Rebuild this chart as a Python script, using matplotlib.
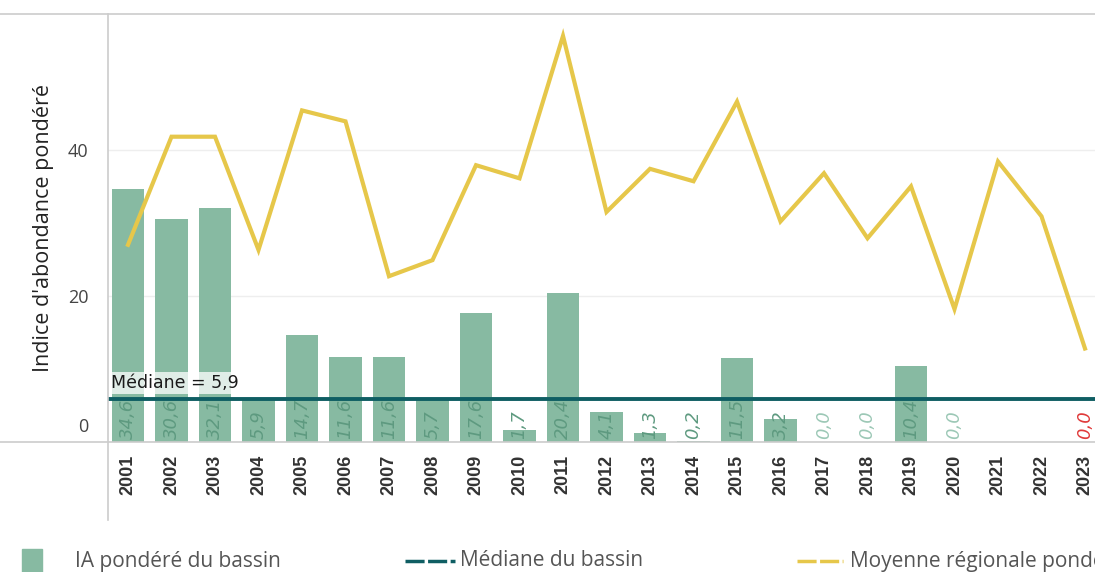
import matplotlib
matplotlib.use("Agg")
import matplotlib.pyplot as plt
from matplotlib.lines import Line2D
from matplotlib.patches import Rectangle

# données
annees = [str(a) for a in range(2001, 2024)]
ia_bassin = [34.6, 30.6, 32.1, 5.9, 14.7, 11.6, 11.6, 5.7, 17.6, 1.7, 20.4, 4.1,
             1.3, 0.2, 11.5, 3.2, 0.0, 0.0, 10.4, 0.0, None, None, 0.0]
moyenne_regionale = [27.0, 41.8, 41.8, 26.3, 45.4, 43.9, 22.7, 24.9, 37.9, 36.1, 55.6, 31.5,
                     37.4, 35.7, 46.6, 30.2, 36.8, 27.9, 35.0, 18.2, 38.4, 30.9, 12.8]
mediane = 5.9
yticks = [0, 20, 40]

col_bar = '#87baa2'
col_lab = '#5e9a80'
col_zero = '#9cc8b6'
col_red = '#e03a3a'
col_med = '#0f5e63'
col_moy = '#e6c74a'

fig = plt.figure(figsize=(10.95, 5.72), dpi=100)
ax = fig.add_axes([108 / 1095, 130 / 572, 1 - 108 / 1095, 428 / 572])

x = list(range(len(annees)))
bx = [i for i, v in zip(x, ia_bassin) if v is not None]
bv = [v for v in ia_bassin if v is not None]
ax.bar(bx, bv, width=0.75, color=col_bar, zorder=2)

for i, v in zip(bx, bv):
    c = col_lab
    if v == 0:
        c = col_zero
    if i == len(annees) - 1:
        c = col_red
    ax.text(i, 0.4, ('%.1f' % v).replace('.', ','), rotation=90, ha='center', va='bottom',
            fontsize=13, style='italic', color=c, family='DejaVu Sans', zorder=3)

ax.plot(x, moyenne_regionale, color=col_moy, lw=3, zorder=4, solid_joinstyle='miter')
ax.axhline(mediane, color=col_med, lw=2.8, zorder=5)
ax.text(-0.38, mediane + 0.9, 'Médiane = 5,9', fontsize=12.5, color='#1a1a1a', family='DejaVu Sans',
        ha='left', va='bottom', zorder=6,
        bbox=dict(facecolor='white', edgecolor='none', alpha=0.75, pad=1.5))

ax.set_xlim(-0.46, 22.23)
ax.set_ylim(0, 58.6)
ax.set_yticks(yticks)
# le "0" est dessiné à part, un peu au-dessus de l'axe
ax.set_yticklabels(['' if t == 0 else str(t) for t in yticks], fontsize=13, color='#444444',
                   family='Open Sans')
ax.annotate(str(yticks[0]), xy=(0, yticks[0]), xycoords=('axes fraction', 'data'),
            xytext=(-14, 11), textcoords='offset points', ha='right', va='center',
            fontsize=13, color='#444444', family='Open Sans')
ax.set_xticks(x)
ax.set_xticklabels(annees, rotation=90, fontsize=13, fontweight='bold', color='#333333',
                   family='Liberation Sans')
ax.tick_params(axis='x', length=0, pad=9)
ax.tick_params(axis='y', length=0, pad=14)
ax.grid(axis='y', color='#eeeeee', lw=1, zorder=0)
for s in ax.spines.values():
    s.set_visible(False)
ax.set_ylabel("Indice d'abondance pondéré", fontsize=15.5, color='#222222', family='Open Sans',
              labelpad=10)

# traits du cadre
fig.add_artist(Line2D([0, 1], [1 - 14 / 572, 1 - 14 / 572], color='#cccccc', lw=1.2))
fig.add_artist(Line2D([108 / 1095, 108 / 1095], [1 - 14 / 572, 1 - 520 / 572], color='#cccccc', lw=1.2))
fig.add_artist(Line2D([0, 1], [130 / 572, 130 / 572], color='#cccccc', lw=1.2))

# légende (coupée à droite comme sur l'original)
ly = 1 - 561 / 572
fig.add_artist(Rectangle((22 / 1095, ly - 12 / 572), 20 / 1095, 24 / 572, color=col_bar,
                         transform=fig.transFigure))
fig.text(75 / 1095, ly, 'IA pondéré du bassin', fontsize=15, color='#555555', va='center',
         family='Open Sans')
fig.add_artist(Line2D([405 / 1095, 455 / 1095], [ly, ly], color=col_med, lw=2.5, ls=(0, (5.5, 1))))
fig.text(460 / 1095, ly, 'Médiane du bassin', fontsize=15, color='#555555', va='center',
         family='Open Sans')
fig.add_artist(Line2D([797 / 1095, 843 / 1095], [ly, ly], color=col_moy, lw=2.5, ls=(0, (5.5, 1))))
fig.text(850 / 1095, ly, 'Moyenne régionale pondérée', fontsize=15, color='#555555', va='center',
         family='Open Sans')

fig.savefig('out.png', dpi=100)
